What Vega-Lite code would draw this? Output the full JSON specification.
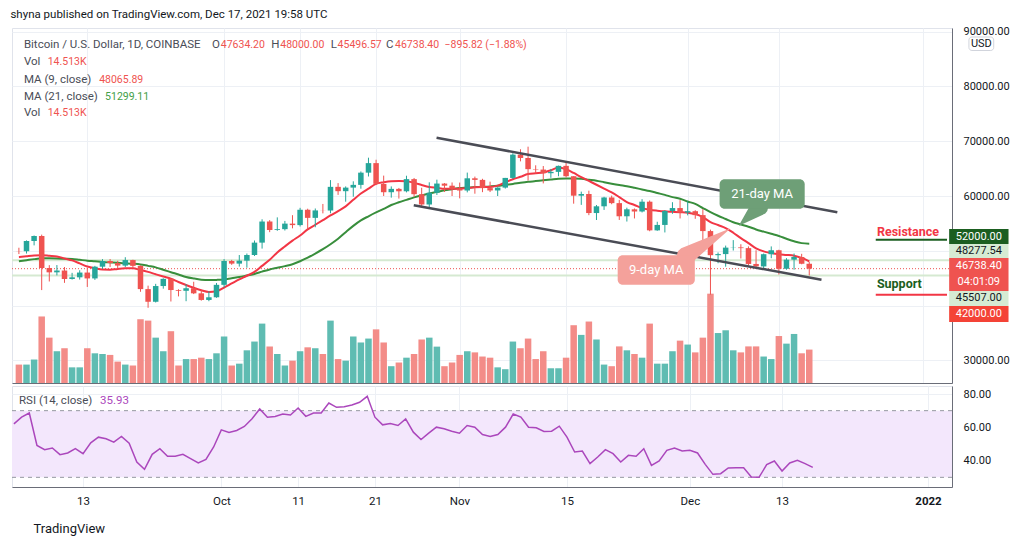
{
  "$schema": "https://vega.github.io/schema/vega-lite/v6.json",
  "background": "white",
  "padding": {"left": 10, "top": 8, "right": 4, "bottom": 4},
  "title": {"text": "shyna published on TradingView.com, Dec 17, 2021 19:58 UTC", "anchor": "start", "fontSize": 11.5, "fontWeight": "normal", "color": "#131722", "offset": 5},
  "config": {
    "font": "Roboto",
    "view": {"stroke": "#e0e3eb"},
    "axis": {"gridColor": "#edf0f5", "labelColor": "#131722", "labelFontSize": 11, "domainColor": "#6a6d78"}
  },
  "spacing": 1,
  "datasets": {
    "bars": [
      {"date":"2021-09-04","open":49940,"high":50560,"low":49400,"close":49920,"volume":8.0,"ma9":48840,"ma21":48080,"rsi":62.1},
      {"date":"2021-09-05","open":49920,"high":51900,"low":49500,"close":51790,"volume":8.0,"ma9":48990,"ma21":48280,"rsi":66.1},
      {"date":"2021-09-06","open":51790,"high":52790,"low":50990,"close":52700,"volume":10.2,"ma9":49130,"ma21":48480,"rsi":68.6},
      {"date":"2021-09-07","open":52700,"high":52950,"low":42830,"close":46860,"volume":28.9,"ma9":49200,"ma21":48620,"rsi":49.1},
      {"date":"2021-09-08","open":46860,"high":47380,"low":44400,"close":46070,"volume":19.7,"ma9":49100,"ma21":48620,"rsi":46.6},
      {"date":"2021-09-09","open":46070,"high":47400,"low":45510,"close":46400,"volume":13.8,"ma9":48980,"ma21":48600,"rsi":47.6},
      {"date":"2021-09-10","open":46400,"high":47040,"low":44150,"close":44850,"volume":15.1,"ma9":48600,"ma21":48550,"rsi":43.6},
      {"date":"2021-09-11","open":44850,"high":45980,"low":44750,"close":45160,"volume":6.8,"ma9":48250,"ma21":48500,"rsi":44.6},
      {"date":"2021-09-12","open":45160,"high":46450,"low":44750,"close":46030,"volume":6.8,"ma9":47700,"ma21":48350,"rsi":47.2},
      {"date":"2021-09-13","open":46030,"high":46880,"low":43400,"close":44960,"volume":15.1,"ma9":47130,"ma21":48200,"rsi":44.2},
      {"date":"2021-09-14","open":44960,"high":47250,"low":44690,"close":47100,"volume":12.9,"ma9":46800,"ma21":48080,"rsi":50.7},
      {"date":"2021-09-15","open":47100,"high":48480,"low":46700,"close":48140,"volume":12.6,"ma9":46580,"ma21":47950,"rsi":54.1},
      {"date":"2021-09-16","open":48140,"high":48500,"low":47050,"close":47760,"volume":12.2,"ma9":46550,"ma21":47870,"rsi":53.1},
      {"date":"2021-09-17","open":47760,"high":48180,"low":46770,"close":47300,"volume":9.3,"ma9":46700,"ma21":47800,"rsi":51.1},
      {"date":"2021-09-18","open":47300,"high":48830,"low":47050,"close":48310,"volume":8.0,"ma9":46800,"ma21":47720,"rsi":54.5},
      {"date":"2021-09-19","open":48310,"high":48370,"low":46880,"close":47250,"volume":7.6,"ma9":46800,"ma21":47640,"rsi":50.5},
      {"date":"2021-09-20","open":47250,"high":47340,"low":42520,"close":43010,"volume":27.7,"ma9":46500,"ma21":47520,"rsi":39.2},
      {"date":"2021-09-21","open":43010,"high":43640,"low":39600,"close":40700,"volume":27.1,"ma9":46150,"ma21":47250,"rsi":34.8},
      {"date":"2021-09-22","open":40700,"high":43970,"low":40570,"close":43570,"volume":19.7,"ma9":45720,"ma21":46980,"rsi":43.8},
      {"date":"2021-09-23","open":43570,"high":44980,"low":43090,"close":44880,"volume":13.8,"ma9":45300,"ma21":46550,"rsi":47.2},
      {"date":"2021-09-24","open":44880,"high":45000,"low":40750,"close":42840,"volume":22.5,"ma9":44900,"ma21":46100,"rsi":42.6},
      {"date":"2021-09-25","open":42840,"high":42980,"low":41680,"close":42700,"volume":7.6,"ma9":44300,"ma21":45680,"rsi":42.6},
      {"date":"2021-09-26","open":42700,"high":43920,"low":40800,"close":43170,"volume":10.4,"ma9":43750,"ma21":45230,"rsi":43.8},
      {"date":"2021-09-27","open":43170,"high":44350,"low":42100,"close":42240,"volume":10.4,"ma9":43250,"ma21":44950,"rsi":41.2},
      {"date":"2021-09-28","open":42240,"high":42790,"low":40900,"close":41030,"volume":11.0,"ma9":42800,"ma21":44730,"rsi":38.6},
      {"date":"2021-09-29","open":41030,"high":42600,"low":40800,"close":41520,"volume":10.4,"ma9":42500,"ma21":44650,"rsi":40.8},
      {"date":"2021-09-30","open":41520,"high":44130,"low":41420,"close":43790,"volume":12.9,"ma9":42600,"ma21":44690,"rsi":48.2},
      {"date":"2021-10-01","open":43790,"high":48490,"low":43300,"close":48140,"volume":20.2,"ma9":43300,"ma21":44780,"rsi":58.5},
      {"date":"2021-10-02","open":48140,"high":48340,"low":47440,"close":47660,"volume":7.6,"ma9":44050,"ma21":45000,"rsi":56.9},
      {"date":"2021-10-03","open":47660,"high":49230,"low":47120,"close":48200,"volume":8.4,"ma9":44800,"ma21":45200,"rsi":58.1},
      {"date":"2021-10-04","open":48200,"high":49500,"low":46920,"close":49230,"volume":14.2,"ma9":45450,"ma21":45500,"rsi":60.5},
      {"date":"2021-10-05","open":49230,"high":51880,"low":49050,"close":51490,"volume":18.0,"ma9":46150,"ma21":45780,"rsi":65.1},
      {"date":"2021-10-06","open":51490,"high":55750,"low":50400,"close":55340,"volume":25.8,"ma9":47250,"ma21":46200,"rsi":71.0},
      {"date":"2021-10-07","open":55340,"high":55600,"low":53400,"close":53800,"volume":15.9,"ma9":48350,"ma21":46600,"rsi":66.1},
      {"date":"2021-10-08","open":53800,"high":56100,"low":53650,"close":53950,"volume":12.6,"ma9":49700,"ma21":46900,"rsi":66.5},
      {"date":"2021-10-09","open":53950,"high":55450,"low":53700,"close":54960,"volume":7.6,"ma9":50800,"ma21":47200,"rsi":68.0},
      {"date":"2021-10-10","open":54960,"high":56500,"low":54100,"close":54690,"volume":9.7,"ma9":51850,"ma21":47550,"rsi":67.4},
      {"date":"2021-10-11","open":54690,"high":57840,"low":54430,"close":57490,"volume":13.8,"ma9":52800,"ma21":48100,"rsi":71.6},
      {"date":"2021-10-12","open":57490,"high":57680,"low":53880,"close":56010,"volume":15.5,"ma9":53900,"ma21":48750,"rsi":66.6},
      {"date":"2021-10-13","open":56010,"high":57720,"low":54300,"close":57370,"volume":15.1,"ma9":54750,"ma21":49500,"rsi":68.6},
      {"date":"2021-10-14","open":57370,"high":58550,"low":56830,"close":57350,"volume":12.6,"ma9":55600,"ma21":50300,"rsi":68.6},
      {"date":"2021-10-15","open":57350,"high":62900,"low":56850,"close":61670,"volume":27.1,"ma9":56450,"ma21":51200,"rsi":74.6},
      {"date":"2021-10-16","open":61670,"high":62350,"low":60200,"close":60880,"volume":10.4,"ma9":57250,"ma21":52200,"rsi":72.0},
      {"date":"2021-10-17","open":60880,"high":61750,"low":58960,"close":61530,"volume":9.7,"ma9":58100,"ma21":53400,"rsi":72.4},
      {"date":"2021-10-18","open":61530,"high":62680,"low":59870,"close":62030,"volume":20.2,"ma9":59300,"ma21":54550,"rsi":73.4},
      {"date":"2021-10-19","open":62030,"high":64480,"low":61330,"close":64260,"volume":17.6,"ma9":60450,"ma21":55550,"rsi":75.0},
      {"date":"2021-10-20","open":64260,"high":66990,"low":63560,"close":66000,"volume":19.3,"ma9":61350,"ma21":56300,"rsi":78.6},
      {"date":"2021-10-21","open":66000,"high":66620,"low":62000,"close":62210,"volume":23.3,"ma9":62200,"ma21":57000,"rsi":66.1},
      {"date":"2021-10-22","open":62210,"high":63720,"low":60000,"close":60690,"volume":17.6,"ma9":62500,"ma21":57650,"rsi":61.5},
      {"date":"2021-10-23","open":60690,"high":61750,"low":59700,"close":61300,"volume":7.3,"ma9":62700,"ma21":58350,"rsi":62.3},
      {"date":"2021-10-24","open":61300,"high":61470,"low":59530,"close":60860,"volume":8.9,"ma9":62750,"ma21":58850,"rsi":61.1},
      {"date":"2021-10-25","open":60860,"high":63700,"low":60660,"close":63080,"volume":11.0,"ma9":62700,"ma21":59300,"rsi":65.1},
      {"date":"2021-10-26","open":63080,"high":63290,"low":59880,"close":60330,"volume":12.6,"ma9":62400,"ma21":59750,"rsi":57.1},
      {"date":"2021-10-27","open":60330,"high":61500,"low":58100,"close":58450,"volume":18.9,"ma9":62000,"ma21":60100,"rsi":52.7},
      {"date":"2021-10-28","open":58450,"high":62500,"low":57820,"close":60590,"volume":19.7,"ma9":61650,"ma21":60450,"rsi":56.5},
      {"date":"2021-10-29","open":60590,"high":62980,"low":60190,"close":62270,"volume":15.8,"ma9":61500,"ma21":60750,"rsi":60.1},
      {"date":"2021-10-30","open":62270,"high":62360,"low":60740,"close":61880,"volume":7.3,"ma9":61340,"ma21":61040,"rsi":59.1},
      {"date":"2021-10-31","open":61880,"high":62470,"low":60000,"close":61320,"volume":8.9,"ma9":61340,"ma21":61250,"rsi":57.7},
      {"date":"2021-11-01","open":61320,"high":62450,"low":59570,"close":61000,"volume":12.2,"ma9":61340,"ma21":61450,"rsi":56.5},
      {"date":"2021-11-02","open":61000,"high":64270,"low":60660,"close":63230,"volume":13.8,"ma9":61450,"ma21":61530,"rsi":61.1},
      {"date":"2021-11-03","open":63230,"high":63540,"low":60420,"close":62940,"volume":13.3,"ma9":61600,"ma21":61620,"rsi":60.1},
      {"date":"2021-11-04","open":62940,"high":63140,"low":60700,"close":61440,"volume":11.5,"ma9":61650,"ma21":61680,"rsi":55.7},
      {"date":"2021-11-05","open":61440,"high":62620,"low":60720,"close":61010,"volume":11.0,"ma9":61650,"ma21":61750,"rsi":54.5},
      {"date":"2021-11-06","open":61010,"high":61590,"low":60000,"close":61530,"volume":6.8,"ma9":61900,"ma21":61850,"rsi":55.7},
      {"date":"2021-11-07","open":61530,"high":63300,"low":61350,"close":63300,"volume":6.0,"ma9":62500,"ma21":62030,"rsi":60.1},
      {"date":"2021-11-08","open":63300,"high":67800,"low":63100,"close":67550,"volume":18.0,"ma9":63050,"ma21":62200,"rsi":68.0},
      {"date":"2021-11-09","open":67550,"high":68530,"low":66320,"close":66940,"volume":15.1,"ma9":63500,"ma21":62400,"rsi":66.1},
      {"date":"2021-11-10","open":66940,"high":69000,"low":62830,"close":64900,"volume":19.3,"ma9":64000,"ma21":62580,"rsi":60.1},
      {"date":"2021-11-11","open":64900,"high":65600,"low":64100,"close":64820,"volume":10.4,"ma9":64150,"ma21":62720,"rsi":59.7},
      {"date":"2021-11-12","open":64820,"high":65470,"low":62300,"close":64160,"volume":13.8,"ma9":64280,"ma21":62870,"rsi":57.5},
      {"date":"2021-11-13","open":64160,"high":64940,"low":63320,"close":64400,"volume":6.4,"ma9":64700,"ma21":63000,"rsi":57.7},
      {"date":"2021-11-14","open":64400,"high":65550,"low":63600,"close":65500,"volume":6.4,"ma9":65200,"ma21":63130,"rsi":60.7},
      {"date":"2021-11-15","open":65500,"high":66340,"low":63410,"close":63610,"volume":11.0,"ma9":64900,"ma21":63180,"rsi":54.1},
      {"date":"2021-11-16","open":63610,"high":63610,"low":58600,"close":60060,"volume":25.1,"ma9":64200,"ma21":63180,"rsi":45.2},
      {"date":"2021-11-17","open":60060,"high":60800,"low":58380,"close":60370,"volume":20.9,"ma9":63450,"ma21":63130,"rsi":45.8},
      {"date":"2021-11-18","open":60370,"high":60970,"low":56500,"close":56890,"volume":26.7,"ma9":62750,"ma21":62970,"rsi":38.2},
      {"date":"2021-11-19","open":56890,"high":58360,"low":55620,"close":58120,"volume":18.9,"ma9":62050,"ma21":62800,"rsi":42.2},
      {"date":"2021-11-20","open":58120,"high":59860,"low":57460,"close":59730,"volume":8.0,"ma9":61350,"ma21":62520,"rsi":46.6},
      {"date":"2021-11-21","open":59730,"high":60070,"low":58500,"close":58700,"volume":7.3,"ma9":60650,"ma21":62250,"rsi":44.2},
      {"date":"2021-11-22","open":58700,"high":59300,"low":55630,"close":56300,"volume":15.9,"ma9":59800,"ma21":62000,"rsi":39.2},
      {"date":"2021-11-23","open":56300,"high":57870,"low":55340,"close":57570,"volume":14.2,"ma9":58900,"ma21":61780,"rsi":43.2},
      {"date":"2021-11-24","open":57570,"high":57730,"low":55900,"close":57170,"volume":12.6,"ma9":58350,"ma21":61500,"rsi":42.6},
      {"date":"2021-11-25","open":57170,"high":59420,"low":57000,"close":58960,"volume":11.0,"ma9":57780,"ma21":61200,"rsi":47.2},
      {"date":"2021-11-26","open":58960,"high":59180,"low":53570,"close":53730,"volume":25.8,"ma9":57500,"ma21":60900,"rsi":37.2},
      {"date":"2021-11-27","open":53730,"high":55300,"low":53650,"close":54720,"volume":8.4,"ma9":57330,"ma21":60550,"rsi":39.8},
      {"date":"2021-11-28","open":54720,"high":57400,"low":53350,"close":57270,"volume":8.4,"ma9":57200,"ma21":60200,"rsi":46.2},
      {"date":"2021-11-29","open":57270,"high":58870,"low":56750,"close":57800,"volume":13.8,"ma9":57120,"ma21":59800,"rsi":47.6},
      {"date":"2021-11-30","open":57800,"high":59250,"low":55900,"close":56980,"volume":18.4,"ma9":57040,"ma21":59500,"rsi":45.8},
      {"date":"2021-12-01","open":56980,"high":59050,"low":56470,"close":57230,"volume":16.7,"ma9":56950,"ma21":59000,"rsi":46.2},
      {"date":"2021-12-02","open":57230,"high":57400,"low":55840,"close":56510,"volume":13.3,"ma9":56700,"ma21":58550,"rsi":44.6},
      {"date":"2021-12-03","open":56510,"high":57600,"low":51700,"close":53600,"volume":19.7,"ma9":56150,"ma21":57800,"rsi":37.8},
      {"date":"2021-12-04","open":53600,"high":53860,"low":42000,"close":49200,"volume":38.8,"ma9":55250,"ma21":57060,"rsi":31.8},
      {"date":"2021-12-05","open":49200,"high":49700,"low":47730,"close":49400,"volume":21.7,"ma9":54700,"ma21":56400,"rsi":32.2},
      {"date":"2021-12-06","open":49400,"high":50950,"low":47100,"close":50580,"volume":22.9,"ma9":54150,"ma21":55800,"rsi":35.6},
      {"date":"2021-12-07","open":50580,"high":51950,"low":50050,"close":50620,"volume":14.2,"ma9":53300,"ma21":55200,"rsi":35.8},
      {"date":"2021-12-08","open":50620,"high":51200,"low":48600,"close":50490,"volume":13.3,"ma9":52300,"ma21":54800,"rsi":35.8},
      {"date":"2021-12-09","open":50490,"high":50800,"low":47330,"close":47600,"volume":15.9,"ma9":51400,"ma21":54400,"rsi":30.2},
      {"date":"2021-12-10","open":47600,"high":50100,"low":46850,"close":47150,"volume":15.9,"ma9":50450,"ma21":53900,"rsi":30.0},
      {"date":"2021-12-11","open":47150,"high":49500,"low":46630,"close":49380,"volume":11.5,"ma9":49900,"ma21":53500,"rsi":37.6},
      {"date":"2021-12-12","open":49380,"high":50800,"low":48650,"close":50100,"volume":10.4,"ma9":49600,"ma21":53100,"rsi":39.8},
      {"date":"2021-12-13","open":50100,"high":50200,"low":45670,"close":46720,"volume":20.4,"ma9":49380,"ma21":52700,"rsi":33.8},
      {"date":"2021-12-14","open":46720,"high":48660,"low":46550,"close":48380,"volume":17.1,"ma9":49250,"ma21":52200,"rsi":38.6},
      {"date":"2021-12-15","open":48380,"high":49500,"low":46550,"close":48870,"volume":21.3,"ma9":49100,"ma21":51740,"rsi":40.2},
      {"date":"2021-12-16","open":48870,"high":49450,"low":47540,"close":47634.2,"volume":12.9,"ma9":48700,"ma21":51400,"rsi":38.2},
      {"date":"2021-12-17","open":47634.2,"high":48000,"low":45496.57,"close":46738.4,"volume":14.513,"ma9":48065.89,"ma21":51299.11,"rsi":35.93}
    ]
  },
  "vconcat": [
    {
      "width": 940,
      "height": 355,
      "resolve": {"scale": {"y": "independent"}},
      "layer": [
        {
          "data": {"name": "bars"},
          "mark": {"type": "bar", "size": 6.5},
          "encoding": {
            "x": {"field": "date", "type": "temporal", "title": null, "scale": {"type": "utc", "domain": [1630692000000, 1641265200000]},
                  "axis": {"values": [1631491200000, 1633046400000, 1633910400000, 1634774400000, 1635724800000, 1636934400000, 1638316800000, 1639353600000, 1640995200000], "labels": false, "ticks": false, "grid": true, "domain": true, "title": null}},
            "y": {"field": "volume", "type": "quantitative", "scale": {"domain": [0, 154.2], "nice": false, "zero": true}, "axis": null},
            "color": {"condition": {"test": "datum.close >= datum.open", "value": "#5fbcb2"}, "value": "#f38c88"}
          }
        },
        {
          "resolve": {"scale": {"color": "independent"}},
          "layer": [
            {
              "data": {"values": [{"level": 48277.54}, {"level": 45507}]},
              "mark": {"type": "rule", "color": "#d5e9d1", "strokeWidth": 2},
              "encoding": {
                "y": {"field": "level", "type": "quantitative", "title": null, "scale": {"domain": [25876, 90657], "nice": false, "zero": false},
                      "axis": {"orient": "right", "values": [30000, 40000, 50000, 60000, 70000, 80000, 90000], "labelExpr": "datum.value == 40000 || datum.value == 50000 ? '' : format(datum.value, '.2f')", "ticks": false, "labelPadding": 11, "grid": true, "domain": true, "title": null}}
              }
            },
            {
              "data": {"values": [{"level": 46738.4}]},
              "mark": {"type": "rule", "color": "#ef5350", "strokeWidth": 1, "strokeDash": [1, 2]},
              "encoding": {
                "y": {"field": "level", "type": "quantitative", "title": null, "scale": {"domain": [25876, 90657], "nice": false, "zero": false}}
              }
            },
            {
              "data": {"name": "bars"},
              "mark": {"type": "line", "color": "#388e3c", "strokeWidth": 2, "interpolate": "monotone"},
              "encoding": {
                "x": {"field": "date", "type": "temporal", "title": null, "scale": {"type": "utc", "domain": [1630692000000, 1641265200000]}},
                "y": {"field": "ma21", "type": "quantitative", "title": null, "scale": {"domain": [25876, 90657], "nice": false, "zero": false}}
              }
            },
            {
              "data": {"name": "bars"},
              "mark": {"type": "line", "color": "#f23645", "strokeWidth": 2, "interpolate": "monotone"},
              "encoding": {
                "x": {"field": "date", "type": "temporal", "title": null, "scale": {"type": "utc", "domain": [1630692000000, 1641265200000]}},
                "y": {"field": "ma9", "type": "quantitative", "title": null, "scale": {"domain": [25876, 90657], "nice": false, "zero": false}}
              }
            },
            {
              "data": {"name": "bars"},
              "mark": {"type": "rule", "strokeWidth": 1},
              "encoding": {
                "x": {"field": "date", "type": "temporal", "title": null, "scale": {"type": "utc", "domain": [1630692000000, 1641265200000]}},
                "y": {"field": "low", "type": "quantitative", "title": null, "scale": {"domain": [25876, 90657], "nice": false, "zero": false}},
                "y2": {"field": "high"},
                "color": {"condition": {"test": "datum.close >= datum.open", "value": "#26a69a"}, "value": "#ef5350"}
              }
            },
            {
              "data": {"name": "bars"},
              "mark": {"type": "bar", "size": 5.5},
              "encoding": {
                "x": {"field": "date", "type": "temporal", "title": null, "scale": {"type": "utc", "domain": [1630692000000, 1641265200000]}},
                "y": {"field": "open", "type": "quantitative", "title": null, "scale": {"domain": [25876, 90657], "nice": false, "zero": false}},
                "y2": {"field": "close"},
                "color": {"condition": {"test": "datum.close >= datum.open", "value": "#26a69a"}, "value": "#ef5350"}
              }
            },
            {
              "data": {"values": [
                {"start": "2021-10-28T23:00:00Z", "end": "2021-12-20T16:36:00Z", "p_start": 70639, "p_end": 57026},
                {"start": "2021-10-25T23:00:00Z", "end": "2021-12-18T14:40:00Z", "p_start": 58303, "p_end": 44726}
              ]},
              "mark": {"type": "rule", "color": "#4a4c55", "strokeWidth": 2.5},
              "encoding": {
                "x": {"field": "start", "type": "temporal", "title": null, "scale": {"type": "utc", "domain": [1630692000000, 1641265200000]}},
                "x2": {"field": "end"},
                "y": {"field": "p_start", "type": "quantitative", "title": null, "scale": {"domain": [25876, 90657], "nice": false, "zero": false}},
                "y2": {"field": "p_end"}
              }
            },
            {
              "data": {"values": [
                {"level": 52000, "from": "2021-12-25T18:00:00Z", "line": "resistance"},
                {"level": 42000, "from": "2021-12-25T18:00:00Z", "line": "support"}
              ]},
              "mark": {"type": "rule", "strokeWidth": 2},
              "encoding": {
                "x": {"field": "from", "type": "temporal", "title": null, "scale": {"type": "utc", "domain": [1630692000000, 1641265200000]}},
                "x2": {"datum": 1641265200000},
                "y": {"field": "level", "type": "quantitative", "title": null, "scale": {"domain": [25876, 90657], "nice": false, "zero": false}},
                "color": {"field": "line", "type": "nominal", "scale": {"domain": ["resistance", "support"], "range": ["#1b5e20", "#f23645"]}, "legend": null}
              }
            },
            {
              "data": {"values": [
                {"date": "2021-12-10T09:50:00Z", "price": 58000, "callout": "ma21", "seq": 0},
                {"date": "2021-12-07T19:12:00Z", "price": 54653, "callout": "ma21", "seq": 1},
                {"date": "2021-11-30T18:30:00Z", "price": 49051, "callout": "ma9", "seq": 0},
                {"date": "2021-12-06T12:00:00Z", "price": 53978, "callout": "ma9", "seq": 1}
              ]},
              "mark": {"type": "trail"},
              "encoding": {
                "x": {"field": "date", "type": "temporal", "title": null, "scale": {"type": "utc", "domain": [1630692000000, 1641265200000]}},
                "y": {"field": "price", "type": "quantitative", "title": null, "scale": {"domain": [25876, 90657], "nice": false, "zero": false}},
                "order": {"field": "seq"},
                "size": {"condition": {"test": "datum.seq == 0", "value": 18}, "value": 0.5},
                "color": {"field": "callout", "type": "nominal", "scale": {"domain": ["ma21", "ma9"], "range": ["#6e9f77", "#f4a19b"]}, "legend": null}
              }
            },
            {
              "data": {"values": [
                {"from": "2021-12-05T04:48:00Z", "to": "2021-12-16T09:36:00Z", "top": 63047, "bottom": 57682, "box": "ma21"},
                {"from": "2021-11-21T19:00:00Z", "to": "2021-12-01T22:36:00Z", "top": 49179, "bottom": 43814, "box": "ma9"}
              ]},
              "mark": {"type": "rect", "cornerRadius": 5},
              "encoding": {
                "x": {"field": "from", "type": "temporal", "title": null, "scale": {"type": "utc", "domain": [1630692000000, 1641265200000]}},
                "x2": {"field": "to"},
                "y": {"field": "top", "type": "quantitative", "title": null, "scale": {"domain": [25876, 90657], "nice": false, "zero": false}},
                "y2": {"field": "bottom"},
                "color": {"field": "box", "type": "nominal", "scale": {"domain": ["ma21", "ma9"], "range": ["#6e9f77", "#f4a19b"]}, "legend": null}
              }
            },
            {
              "data": {"values": [
                {"date": "2021-12-10T19:12:00Z", "price": 60365, "text": "21-day MA"},
                {"date": "2021-11-26T20:38:00Z", "price": 46496, "text": "9-day MA"}
              ]},
              "mark": {"type": "text", "color": "white", "fontSize": 13, "align": "center", "baseline": "middle"},
              "encoding": {
                "x": {"field": "date", "type": "temporal", "title": null, "scale": {"type": "utc", "domain": [1630692000000, 1641265200000]}},
                "y": {"field": "price", "type": "quantitative", "title": null, "scale": {"domain": [25876, 90657], "nice": false, "zero": false}},
                "text": {"field": "text"}
              }
            },
            {
              "data": {"values": [
                {"date": "2021-12-25T21:36:00Z", "price": 53431, "text": "Resistance", "label": "resistance"},
                {"date": "2021-12-25T21:36:00Z", "price": 43942, "text": "Support", "label": "support"}
              ]},
              "mark": {"type": "text", "fontSize": 12.5, "fontWeight": "bold", "align": "left", "baseline": "middle"},
              "encoding": {
                "x": {"field": "date", "type": "temporal", "title": null, "scale": {"type": "utc", "domain": [1630692000000, 1641265200000]}},
                "y": {"field": "price", "type": "quantitative", "title": null, "scale": {"domain": [25876, 90657], "nice": false, "zero": false}},
                "text": {"field": "text"},
                "color": {"field": "label", "type": "nominal", "scale": {"domain": ["resistance", "support"], "range": ["#f23645", "#1b5e20"]}, "legend": null}
              }
            },
            {
              "data": {"values": [
                {"date": "2021-09-04T15:50:00Z", "price": 87555, "text": "Bitcoin / U.S. Dollar, 1D, COINBASE", "kind": "name"},
                {"date": "2021-09-29T09:36:00Z", "price": 87555, "text": "O", "kind": "name"},
                {"date": "2021-09-30T13:40:00Z", "price": 87555, "text": "47634.20", "kind": "down"},
                {"date": "2021-10-07T05:00:00Z", "price": 87555, "text": "H", "kind": "name"},
                {"date": "2021-10-08T09:20:00Z", "price": 87555, "text": "48000.00", "kind": "down"},
                {"date": "2021-10-15T00:40:00Z", "price": 87555, "text": "L", "kind": "name"},
                {"date": "2021-10-15T22:30:00Z", "price": 87555, "text": "45496.57", "kind": "down"},
                {"date": "2021-10-22T07:40:00Z", "price": 87555, "text": "C", "kind": "name"},
                {"date": "2021-10-23T11:50:00Z", "price": 87555, "text": "46738.40", "kind": "down"},
                {"date": "2021-10-30T00:00:00Z", "price": 87555, "text": "−895.82 (−1.88%)", "kind": "down"},
                {"date": "2021-09-04T15:50:00Z", "price": 84453, "text": "Vol", "kind": "name"},
                {"date": "2021-09-07T19:00:00Z", "price": 84453, "text": "14.513K", "kind": "down"},
                {"date": "2021-09-04T15:50:00Z", "price": 81259, "text": "MA (9, close)", "kind": "name"},
                {"date": "2021-09-14T13:25:00Z", "price": 81259, "text": "48065.89", "kind": "down"},
                {"date": "2021-09-04T15:50:00Z", "price": 78066, "text": "MA (21, close)", "kind": "name"},
                {"date": "2021-09-15T08:10:00Z", "price": 78066, "text": "51299.11", "kind": "up"},
                {"date": "2021-09-04T15:50:00Z", "price": 75146, "text": "Vol", "kind": "name"},
                {"date": "2021-09-07T19:00:00Z", "price": 75146, "text": "14.513K", "kind": "down"}
              ]},
              "mark": {"type": "text", "align": "left", "baseline": "middle"},
              "encoding": {
                "x": {"field": "date", "type": "temporal", "title": null, "scale": {"type": "utc", "domain": [1630692000000, 1641265200000]}},
                "y": {"field": "price", "type": "quantitative", "title": null, "scale": {"domain": [25876, 90657], "nice": false, "zero": false}},
                "text": {"field": "text"},
                "size": {"condition": {"test": "datum.kind == 'name'", "value": 11.5}, "value": 10.5},
                "color": {"field": "kind", "type": "nominal", "scale": {"domain": ["name", "down", "up"], "range": ["#4a4d57", "#ef5350", "#43a047"]}, "legend": null}
              }
            },
            {
              "data": {"values": [
                {"top": 53978, "bottom": 51241, "tag": "resistance"},
                {"top": 51241, "bottom": 48686, "tag": "ma"},
                {"top": 48686, "bottom": 42664, "tag": "last"},
                {"top": 42664, "bottom": 39927, "tag": "ma"},
                {"top": 39927, "bottom": 37007, "tag": "support"}
              ]},
              "mark": {"type": "rect"},
              "encoding": {
                "x": {"datum": 1641289680000, "type": "temporal", "title": null, "scale": {"type": "utc", "domain": [1630692000000, 1641265200000]}},
                "x2": {"datum": 1641964680000},
                "y": {"field": "top", "type": "quantitative", "title": null, "scale": {"domain": [25876, 90657], "nice": false, "zero": false}},
                "y2": {"field": "bottom"},
                "color": {"field": "tag", "type": "nominal", "scale": {"domain": ["resistance", "ma", "last", "support"], "range": ["#1b5e20", "#d6ebd3", "#ef5350", "#f44336"]}, "legend": null}
              }
            },
            {
              "data": {"values": [
                {"price": 52609, "text": "52000.00", "tagtext": "resistance"},
                {"price": 49964, "text": "48277.54", "tagtext": "ma"},
                {"price": 47226, "text": "46738.40", "tagtext": "last"},
                {"price": 44307, "text": "04:01:09", "tagtext": "last"},
                {"price": 41296, "text": "45507.00", "tagtext": "ma"},
                {"price": 38467, "text": "42000.00", "tagtext": "support"}
              ]},
              "mark": {"type": "text", "fontSize": 11, "align": "center", "baseline": "middle"},
              "encoding": {
                "x": {"datum": 1641627000000, "type": "temporal", "title": null, "scale": {"type": "utc", "domain": [1630692000000, 1641265200000]}},
                "y": {"field": "price", "type": "quantitative", "title": null, "scale": {"domain": [25876, 90657], "nice": false, "zero": false}},
                "text": {"field": "text"},
                "color": {"field": "tagtext", "type": "nominal", "scale": {"domain": ["resistance", "ma", "last", "support"], "range": ["#ffffff", "#131722", "#ffffff", "#ffffff"]}, "legend": null}
              }
            },
            {
              "data": {"values": [{"top": 89015, "bottom": 86551}]},
              "mark": {"type": "rect", "fill": "white", "stroke": "#d1d4dc", "cornerRadius": 3},
              "encoding": {
                "x": {"datum": 1641514500000, "type": "temporal", "title": null, "scale": {"type": "utc", "domain": [1630692000000, 1641265200000]}},
                "x2": {"datum": 1641796200000},
                "y": {"field": "top", "type": "quantitative", "title": null, "scale": {"domain": [25876, 90657], "nice": false, "zero": false}},
                "y2": {"field": "bottom"}
              }
            },
            {
              "data": {"values": [{"price": 87737, "text": "USD"}]},
              "mark": {"type": "text", "fontSize": 11, "align": "center", "baseline": "middle", "color": "#131722"},
              "encoding": {
                "x": {"datum": 1641655500000, "type": "temporal", "title": null, "scale": {"type": "utc", "domain": [1630692000000, 1641265200000]}},
                "y": {"field": "price", "type": "quantitative", "title": null, "scale": {"domain": [25876, 90657], "nice": false, "zero": false}},
                "text": {"field": "text"}
              }
            }
          ]
        }
      ]
    },
    {
      "width": 940,
      "height": 101,
      "layer": [
        {
          "data": {"name": "bars"},
          "mark": {"type": "line", "color": "#ab47bc", "strokeWidth": 1.5, "opacity": 0},
          "encoding": {
            "x": {"field": "date", "type": "temporal", "scale": {"type": "utc", "domain": [1630692000000, 1641265200000]},
                  "axis": {"values": [1631491200000, 1633046400000, 1633910400000, 1634774400000, 1635724800000, 1636934400000, 1638316800000, 1639353600000, 1640995200000],
                           "labelExpr": "utcdate(datum.value) == 1 ? (utcmonth(datum.value) == 0 ? utcFormat(datum.value, '%Y') : utcFormat(datum.value, '%b')) : utcFormat(datum.value, '%d')",
                           "labelFontWeight": {"condition": {"test": "utcmonth(datum.value) == 0", "value": "bold"}, "value": "normal"},
                           "labelFontSize": 11.5, "ticks": false, "labelPadding": 8, "grid": true, "domain": true,
                           "title": "TradingView", "titleAnchor": "start", "titleAlign": "left", "titleX": 21, "titleFontSize": 13, "titleFontWeight": "normal", "titleColor": "#131722", "titlePadding": 16}},
            "y": {"field": "rsi", "type": "quantitative", "scale": {"domain": [24.2, 84.8], "nice": false, "zero": false},
                  "axis": {"orient": "right", "values": [40, 60, 80], "format": ".2f", "ticks": false, "labelPadding": 11, "grid": true, "domain": true, "title": null}}
          }
        },
        {
          "data": {"values": [{"lo": 30, "hi": 70}]},
          "mark": {"type": "rect", "color": "#f3e7fc"},
          "encoding": {
            "x": {"datum": 1630692000000, "type": "temporal", "scale": {"type": "utc", "domain": [1630692000000, 1641265200000]}},
            "x2": {"datum": 1641265200000},
            "y": {"field": "lo", "type": "quantitative", "scale": {"domain": [24.2, 84.8], "nice": false, "zero": false}},
            "y2": {"field": "hi"}
          }
        },
        {
          "data": {"values": [{"level": 30}, {"level": 70}]},
          "mark": {"type": "rule", "color": "#9598a1", "strokeDash": [4, 4], "strokeWidth": 1},
          "encoding": {
            "y": {"field": "level", "type": "quantitative", "scale": {"domain": [24.2, 84.8], "nice": false, "zero": false}}
          }
        },
        {
          "data": {"name": "bars"},
          "mark": {"type": "line", "color": "#ab47bc", "strokeWidth": 1.5},
          "encoding": {
            "x": {"field": "date", "type": "temporal", "scale": {"type": "utc", "domain": [1630692000000, 1641265200000]}},
            "y": {"field": "rsi", "type": "quantitative", "scale": {"domain": [24.2, 84.8], "nice": false, "zero": false}}
          }
        },
        {
          "data": {"values": [
            {"date": "2021-09-04T15:50:00Z", "rsi": 75.8, "text": "RSI (14, close)", "kind": "name"},
            {"date": "2021-09-15T05:00:00Z", "rsi": 75.8, "text": "35.93", "kind": "rsi"}
          ]},
          "mark": {"type": "text", "fontSize": 11.5, "align": "left", "baseline": "middle"},
          "encoding": {
            "x": {"field": "date", "type": "temporal", "scale": {"type": "utc", "domain": [1630692000000, 1641265200000]}},
            "y": {"field": "rsi", "type": "quantitative", "scale": {"domain": [24.2, 84.8], "nice": false, "zero": false}},
            "text": {"field": "text"},
            "color": {"field": "kind", "type": "nominal", "scale": {"domain": ["name", "rsi"], "range": ["#4a4d57", "#ab47bc"]}, "legend": null}
          }
        }
      ]
    }
  ]
}
